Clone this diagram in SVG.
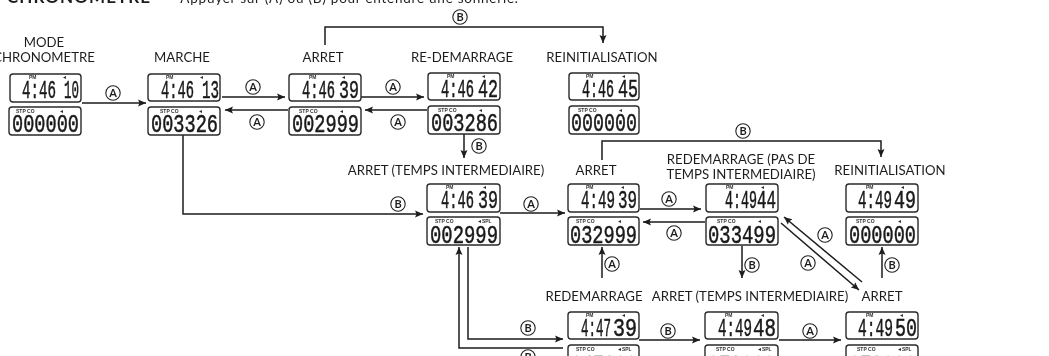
<svg xmlns="http://www.w3.org/2000/svg" width="1049" height="356" viewBox="0 0 1049 356">
<defs>
<marker id="ah" markerUnits="userSpaceOnUse" markerWidth="9" markerHeight="8" refX="8" refY="4" orient="auto"><path d="M0 0.5L8 4L0 7.5L1.5 4Z" fill="#1c1c1c"/></marker>
<filter id="scan" x="0" y="0" width="100%" height="100%"><feGaussianBlur stdDeviation="0.35"/></filter>
</defs>
<style>
.l{font-family:"Lato","Open Sans",sans-serif;font-size:13.2px;fill:#1e1e1e;text-anchor:middle}
.c{font-family:"Lato","Liberation Sans",sans-serif;font-size:11px;font-weight:bold;fill:#1e1e1e;text-anchor:middle}
.o{fill:#fff;stroke:#222;stroke-width:1.1}
.b{fill:#fff;stroke:#2a2a2a;stroke-width:1.4}
.d{font-family:"Liberation Mono",monospace;font-size:26px;fill:#1a1a1a;stroke:#1a1a1a;stroke-width:.55}
.s{font-family:"Liberation Sans",sans-serif;font-size:5px;font-weight:bold;fill:#333}
.w{fill:none;stroke:#1c1c1c;stroke-width:1.5;marker-end:url(#ah)}
</style>
<rect width="1049" height="356" fill="#fff"/>
<g filter="url(#scan)">
<g id="header"><text x="7" y="3" font-family="Lato,sans-serif" font-size="17" font-weight="bold" fill="#1e1e1e" textLength="143">CHRONOMETRE</text><text x="168" y="3" font-family="Lato,sans-serif" font-size="13.5" fill="#1e1e1e" textLength="350">– Appuyer sur (A) ou (B) pour entendre une sonnerie.</text></g>

<g id="connectors">
<path class="w" d="M82 103H146"/>
<path class="w" d="M222 97H285"/>
<path class="w" d="M288 110H225"/>
<path class="w" d="M361 97H424"/>
<path class="w" d="M427 110H365"/>
<path class="w" d="M464 134V158"/>
<path class="w" d="M325 45V27H603V43"/>
<path class="w" d="M183 134V214H423"/>
<path class="w" d="M500 213H565"/>
<path class="w" d="M640 209H701"/>
<path class="w" d="M705 222H643"/>
<path class="w" d="M602 160V141H881V157"/>
<path class="w" d="M602 278V247"/>
<path class="w" d="M742 246V278"/>
<path class="w" d="M882 278V247"/>
<path class="w" d="M862 282L784 217"/>
<path class="w" d="M781 223L859 290"/>
<path class="w" d="M563 348H459V247"/>
<path class="w" d="M468 247V339H563"/>
<path class="w" d="M639 340H700"/>
<path class="w" d="M779 340H841"/>
</g>

<g id="connector-labels">
<circle class="o" cx="113" cy="93" r="7.2"/><text class="c" x="113" y="97">A</text>
<circle class="o" cx="253" cy="87" r="7.2"/><text class="c" x="253" y="91">A</text>
<circle class="o" cx="257" cy="122" r="7.2"/><text class="c" x="257" y="126">A</text>
<circle class="o" cx="393" cy="87" r="7.2"/><text class="c" x="393" y="91">A</text>
<circle class="o" cx="398" cy="122" r="7.2"/><text class="c" x="398" y="126">A</text>
<circle class="o" cx="479" cy="146" r="7.2"/><text class="c" x="479" y="150">B</text>
<circle class="o" cx="460" cy="17" r="7.2"/><text class="c" x="460" y="21">B</text>
<circle class="o" cx="398" cy="204" r="7.2"/><text class="c" x="398" y="208">B</text>
<circle class="o" cx="531" cy="204" r="7.2"/><text class="c" x="531" y="208">A</text>
<circle class="o" cx="669" cy="199" r="7.2"/><text class="c" x="669" y="203">A</text>
<circle class="o" cx="674" cy="233" r="7.2"/><text class="c" x="674" y="237">A</text>
<circle class="o" cx="743" cy="131" r="7.2"/><text class="c" x="743" y="135">B</text>
<circle class="o" cx="612" cy="264" r="7.2"/><text class="c" x="612" y="268">A</text>
<circle class="o" cx="752" cy="265" r="7.2"/><text class="c" x="752" y="269">B</text>
<circle class="o" cx="892" cy="265" r="7.2"/><text class="c" x="892" y="269">B</text>
<circle class="o" cx="825" cy="235" r="7.2"/><text class="c" x="825" y="239">A</text>
<circle class="o" cx="808" cy="263" r="7.2"/><text class="c" x="808" y="267">A</text>
<circle class="o" cx="528" cy="328" r="7.2"/><text class="c" x="528" y="332">B</text>
<circle class="o" cx="528" cy="357" r="7.2"/><text class="c" x="528" y="361">B</text>
<circle class="o" cx="668" cy="331" r="7.2"/><text class="c" x="668" y="335">B</text>
<circle class="o" cx="810" cy="331" r="7.2"/><text class="c" x="810" y="335">A</text>
</g>

<g id="node-mode">
<text class="l" x="44" y="47">MODE</text><text class="l" x="44" y="62">CHRONOMETRE</text>
<rect class="b" x="10" y="74" width="71" height="28" rx="3"/><rect class="b" x="9" y="107" width="72" height="28" rx="3"/>
<text class="s" x="29" y="79">PM</text><text class="s" x="62" y="79">◄</text>
<text class="d" x="22" y="98" textLength="34" lengthAdjust="spacingAndGlyphs">4:46</text><text class="d" x="64" y="98" textLength="15" lengthAdjust="spacingAndGlyphs">10</text>
<text class="s" x="16" y="113">STP CO</text><text class="s" x="59" y="113">◄</text>
<text class="d" x="12" y="132" textLength="67" lengthAdjust="spacingAndGlyphs">000000</text>
</g>

<g id="node-marche">
<text class="l" x="182" y="62">MARCHE</text>
<rect class="b" x="148" y="74" width="72" height="27" rx="3"/><rect class="b" x="148" y="107" width="72" height="28" rx="3"/>
<text class="s" x="166" y="79">PM</text><text class="s" x="199" y="79">◄</text>
<text class="d" x="161" y="98" textLength="33" lengthAdjust="spacingAndGlyphs">4:46</text><text class="d" x="202" y="98" textLength="17" lengthAdjust="spacingAndGlyphs">13</text>
<text class="s" x="160" y="113">STP CO</text><text class="s" x="198" y="113">◄</text>
<text class="d" x="151" y="132" textLength="67" lengthAdjust="spacingAndGlyphs">003326</text>
</g>

<g id="node-arret">
<text class="l" x="323" y="62">ARRET</text>
<rect class="b" x="289" y="74" width="72" height="27" rx="3"/><rect class="b" x="289" y="107" width="72" height="28" rx="3"/>
<text class="s" x="309" y="79">PM</text><text class="s" x="341" y="79">◄</text>
<text class="d" x="302" y="98" textLength="33" lengthAdjust="spacingAndGlyphs">4:46</text><text class="d" x="339" y="98" textLength="20" lengthAdjust="spacingAndGlyphs">39</text>
<text class="s" x="299" y="113">STP CO</text><text class="s" x="339" y="113">◄</text>
<text class="d" x="292" y="132" textLength="67" lengthAdjust="spacingAndGlyphs">002999</text>
</g>

<g id="node-redemarrage">
<text class="l" x="462" y="62">RE-DEMARRAGE</text>
<rect class="b" x="428" y="73" width="72" height="27" rx="3"/><rect class="b" x="428" y="106" width="72" height="28" rx="3"/>
<text class="s" x="447" y="78">PM</text><text class="s" x="481" y="78">◄</text>
<text class="d" x="441" y="97" textLength="33" lengthAdjust="spacingAndGlyphs">4:46</text><text class="d" x="478" y="97" textLength="20" lengthAdjust="spacingAndGlyphs">42</text>
<text class="s" x="438" y="112">STP CO</text><text class="s" x="478" y="112">◄</text>
<text class="d" x="431" y="131" textLength="67" lengthAdjust="spacingAndGlyphs">003286</text>
</g>

<g id="node-reinit">
<text class="l" x="602" y="62">REINITIALISATION</text>
<rect class="b" x="569" y="73" width="70" height="27" rx="3"/><rect class="b" x="569" y="106" width="70" height="28" rx="3"/>
<text class="s" x="586" y="78">PM</text><text class="s" x="621" y="78">◄</text>
<text class="d" x="582" y="97" textLength="32" lengthAdjust="spacingAndGlyphs">4:46</text><text class="d" x="618" y="97" textLength="20" lengthAdjust="spacingAndGlyphs">45</text>
<text class="s" x="578" y="112">STP CO</text><text class="s" x="618" y="112">◄</text>
<text class="d" x="571" y="131" textLength="66" lengthAdjust="spacingAndGlyphs">000000</text>
</g>

<g id="node-arret-inter">
<text class="l" x="446" y="175">ARRET (TEMPS INTERMEDIAIRE)</text>
<rect class="b" x="427" y="184" width="73" height="28" rx="3"/><rect class="b" x="427" y="217" width="73" height="28" rx="3"/>
<text class="s" x="446" y="189">PM</text><text class="s" x="482" y="189">◄</text>
<text class="d" x="441" y="208" textLength="33" lengthAdjust="spacingAndGlyphs">4:46</text><text class="d" x="478" y="208" textLength="20" lengthAdjust="spacingAndGlyphs">39</text>
<text class="s" x="435" y="223">STP CO</text><text class="s" x="477" y="223">◄SPL</text>
<text class="d" x="430" y="243" textLength="68" lengthAdjust="spacingAndGlyphs">002999</text>
</g>

<g id="node-arret2">
<text class="l" x="596" y="175">ARRET</text>
<rect class="b" x="568" y="184" width="71" height="28" rx="3"/><rect class="b" x="568" y="217" width="71" height="28" rx="3"/>
<text class="s" x="586" y="189">PM</text><text class="s" x="620" y="189">◄</text>
<text class="d" x="581" y="208" textLength="34" lengthAdjust="spacingAndGlyphs">4:49</text><text class="d" x="618" y="208" textLength="19" lengthAdjust="spacingAndGlyphs">39</text>
<text class="s" x="576" y="223">STP CO</text><text class="s" x="617" y="223">◄</text>
<text class="d" x="570" y="243" textLength="67" lengthAdjust="spacingAndGlyphs">032999</text>
</g>

<g id="node-redemarrage2">
<text class="l" x="741" y="164">REDEMARRAGE (PAS DE</text><text class="l" x="741" y="179">TEMPS INTERMEDIAIRE)</text>
<rect class="b" x="706" y="184" width="72" height="28" rx="3"/><rect class="b" x="706" y="217" width="72" height="28" rx="3"/>
<text class="s" x="726" y="189">PM</text><text class="s" x="760" y="189">◄</text>
<text class="d" x="725" y="208" textLength="32" lengthAdjust="spacingAndGlyphs">4:49</text><text class="d" x="757" y="208" textLength="19" lengthAdjust="spacingAndGlyphs">44</text>
<text class="s" x="717" y="223">STP CO</text><text class="s" x="757" y="223">◄</text>
<text class="d" x="708" y="243" textLength="68" lengthAdjust="spacingAndGlyphs">033499</text>
</g>

<g id="node-reinit2">
<text class="l" x="890" y="175">REINITIALISATION</text>
<rect class="b" x="846" y="184" width="72" height="28" rx="3"/><rect class="b" x="846" y="217" width="72" height="28" rx="3"/>
<text class="s" x="866" y="189">PM</text><text class="s" x="900" y="189">◄</text>
<text class="d" x="858" y="208" textLength="34" lengthAdjust="spacingAndGlyphs">4:49</text><text class="d" x="894" y="208" textLength="22" lengthAdjust="spacingAndGlyphs">49</text>
<text class="s" x="856" y="223">STP CO</text><text class="s" x="897" y="223">◄</text>
<text class="d" x="849" y="243" textLength="67" lengthAdjust="spacingAndGlyphs">000000</text>
</g>

<g id="node-redemarrage3">
<text class="l" x="594" y="301">REDEMARRAGE</text>
<rect class="b" x="568" y="312" width="71" height="27" rx="3"/><rect class="b" x="568" y="345" width="71" height="28" rx="3"/>
<text class="s" x="586" y="317">PM</text><text class="s" x="621" y="317">◄</text>
<text class="d" x="581" y="336" textLength="30" lengthAdjust="spacingAndGlyphs">4:47</text><text class="d" x="613" y="336" textLength="24" lengthAdjust="spacingAndGlyphs">39</text>
<text class="s" x="576" y="351">STP CO</text><text class="s" x="617" y="351">◄SPL</text>
<text class="d" x="571" y="373" textLength="66" lengthAdjust="spacingAndGlyphs">047399</text>
</g>

<g id="node-arret-inter2">
<text class="l" x="750" y="301">ARRET (TEMPS INTERMEDIAIRE)</text>
<rect class="b" x="705" y="312" width="73" height="27" rx="3"/><rect class="b" x="705" y="345" width="73" height="28" rx="3"/>
<text class="s" x="725" y="317">PM</text><text class="s" x="760" y="317">◄</text>
<text class="d" x="718" y="336" textLength="34" lengthAdjust="spacingAndGlyphs">4:49</text><text class="d" x="753" y="336" textLength="23" lengthAdjust="spacingAndGlyphs">48</text>
<text class="s" x="716" y="351">STP CO</text><text class="s" x="757" y="351">◄SPL</text>
<text class="d" x="708" y="373" textLength="67" lengthAdjust="spacingAndGlyphs">073999</text>
</g>

<g id="node-arret3">
<text class="l" x="882" y="301">ARRET</text>
<rect class="b" x="846" y="312" width="72" height="27" rx="3"/><rect class="b" x="846" y="345" width="72" height="28" rx="3"/>
<text class="s" x="866" y="317">PM</text><text class="s" x="899" y="317">◄</text>
<text class="d" x="858" y="336" textLength="35" lengthAdjust="spacingAndGlyphs">4:49</text><text class="d" x="895" y="336" textLength="22" lengthAdjust="spacingAndGlyphs">50</text>
<text class="s" x="857" y="351">STP CO</text><text class="s" x="897" y="351">◄SPL</text>
<text class="d" x="849" y="373" textLength="67" lengthAdjust="spacingAndGlyphs">073999</text>
</g>
</g>
</svg>
